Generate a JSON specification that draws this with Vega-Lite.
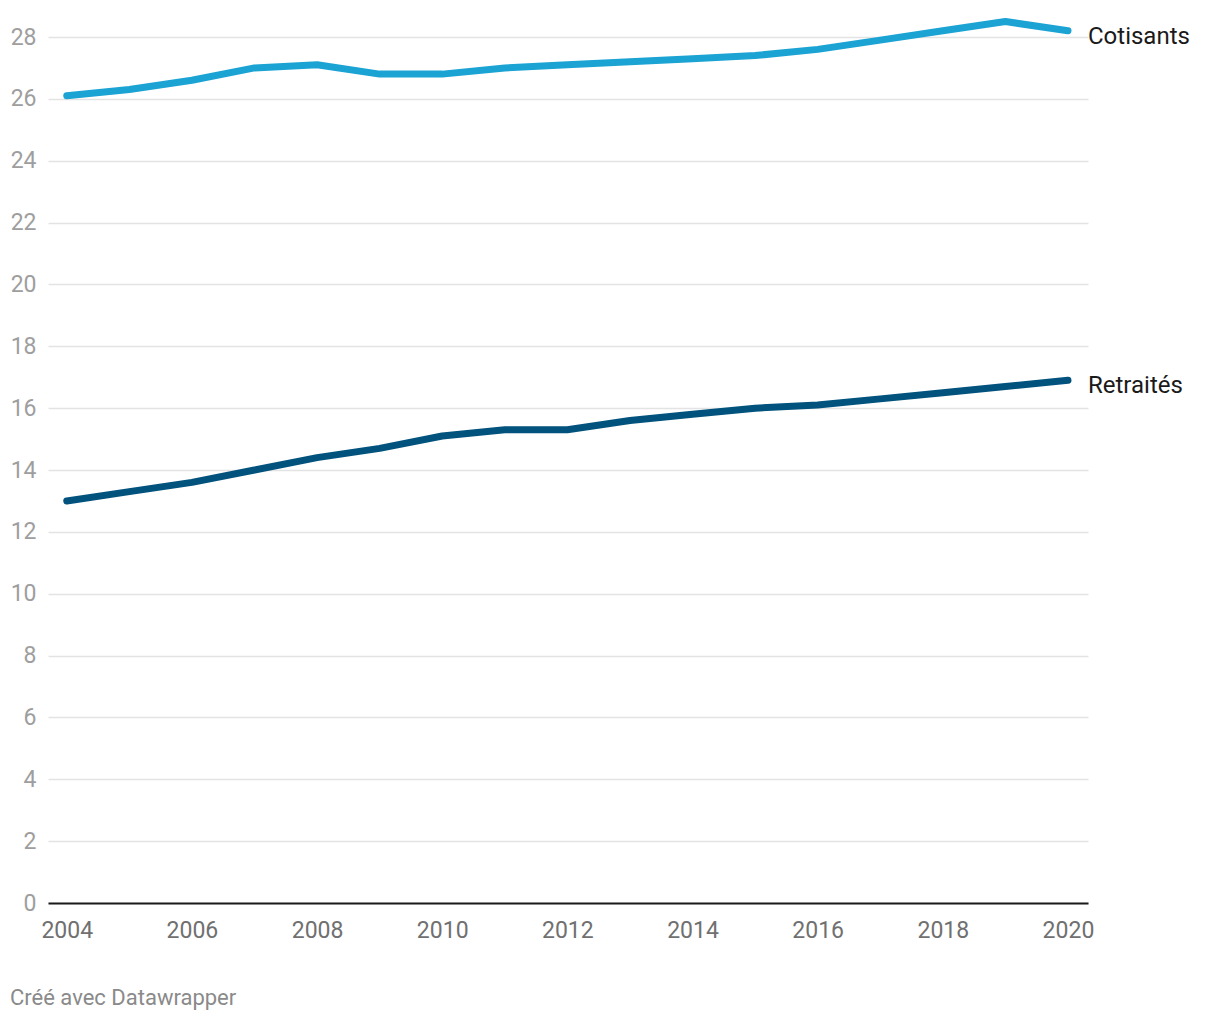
{
  "$schema": "https://vega.github.io/schema/vega-lite/v6.json",
  "width": 1040,
  "height": 866,
  "autosize": {"type": "none"},
  "padding": {"left": 48, "top": 37, "right": 132, "bottom": 117},
  "background": "white",
  "config": {
    "font": "Roboto",
    "view": {"stroke": null}
  },
  "title": {
    "text": "Créé avec Datawrapper",
    "orient": "bottom",
    "anchor": "start",
    "frame": "group",
    "dx": -38,
    "offset": 46,
    "fontSize": 22,
    "fontWeight": "normal",
    "color": "#8a8a8a",
    "font": "Roboto"
  },
  "data": {
    "values": [
      {"year": 2004, "series": "Cotisants", "value": 26.1},
      {"year": 2005, "series": "Cotisants", "value": 26.3},
      {"year": 2006, "series": "Cotisants", "value": 26.6},
      {"year": 2007, "series": "Cotisants", "value": 27.0},
      {"year": 2008, "series": "Cotisants", "value": 27.1},
      {"year": 2009, "series": "Cotisants", "value": 26.8},
      {"year": 2010, "series": "Cotisants", "value": 26.8},
      {"year": 2011, "series": "Cotisants", "value": 27.0},
      {"year": 2012, "series": "Cotisants", "value": 27.1},
      {"year": 2013, "series": "Cotisants", "value": 27.2},
      {"year": 2014, "series": "Cotisants", "value": 27.3},
      {"year": 2015, "series": "Cotisants", "value": 27.4},
      {"year": 2016, "series": "Cotisants", "value": 27.6},
      {"year": 2017, "series": "Cotisants", "value": 27.9},
      {"year": 2018, "series": "Cotisants", "value": 28.2},
      {"year": 2019, "series": "Cotisants", "value": 28.5},
      {"year": 2020, "series": "Cotisants", "value": 28.2},
      {"year": 2004, "series": "Retraités", "value": 13.0},
      {"year": 2005, "series": "Retraités", "value": 13.3},
      {"year": 2006, "series": "Retraités", "value": 13.6},
      {"year": 2007, "series": "Retraités", "value": 14.0},
      {"year": 2008, "series": "Retraités", "value": 14.4},
      {"year": 2009, "series": "Retraités", "value": 14.7},
      {"year": 2010, "series": "Retraités", "value": 15.1},
      {"year": 2011, "series": "Retraités", "value": 15.3},
      {"year": 2012, "series": "Retraités", "value": 15.3},
      {"year": 2013, "series": "Retraités", "value": 15.6},
      {"year": 2014, "series": "Retraités", "value": 15.8},
      {"year": 2015, "series": "Retraités", "value": 16.0},
      {"year": 2016, "series": "Retraités", "value": 16.1},
      {"year": 2017, "series": "Retraités", "value": 16.3},
      {"year": 2018, "series": "Retraités", "value": 16.5},
      {"year": 2019, "series": "Retraités", "value": 16.7},
      {"year": 2020, "series": "Retraités", "value": 16.9}
    ]
  },
  "encoding": {
    "x": {
      "field": "year",
      "type": "quantitative",
      "scale": {"domain": [2003.7, 2020.32], "nice": false, "zero": false},
      "axis": {
        "title": null,
        "values": [2004, 2006, 2008, 2010, 2012, 2014, 2016, 2018, 2020],
        "format": "d",
        "grid": false,
        "ticks": false,
        "domain": true,
        "domainColor": "#1a1a1a",
        "domainWidth": 2,
        "labelFontSize": 23,
        "labelColor": "#707070",
        "labelPadding": 16,
        "labelFont": "Roboto"
      }
    },
    "y": {
      "field": "value",
      "type": "quantitative",
      "scale": {"domain": [0, 28], "nice": false},
      "axis": {
        "title": null,
        "values": [0, 2, 4, 6, 8, 10, 12, 14, 16, 18, 20, 22, 24, 26, 28],
        "grid": true,
        "gridColor": "#e3e3e3",
        "gridWidth": 1.5,
        "ticks": false,
        "domain": false,
        "labelFontSize": 23,
        "labelColor": "#9e9e9e",
        "labelPadding": 12,
        "labelFont": "Roboto"
      }
    },
    "color": {
      "field": "series",
      "type": "nominal",
      "scale": {"domain": ["Cotisants", "Retraités"], "range": ["#1aa3d3", "#01527c"]},
      "legend": null
    }
  },
  "layer": [
    {
      "mark": {"type": "line", "strokeWidth": 7, "strokeCap": "round", "strokeJoin": "round", "clip": false}
    },
    {
      "transform": [{"filter": "datum.year == 2020"}],
      "mark": {"type": "text", "align": "left", "baseline": "middle", "dx": 20, "dy": 6, "fontSize": 24, "color": "#1a1a1a", "font": "Roboto"},
      "encoding": {
        "text": {"field": "series"},
        "color": {"value": "#1a1a1a"}
      }
    }
  ]
}
